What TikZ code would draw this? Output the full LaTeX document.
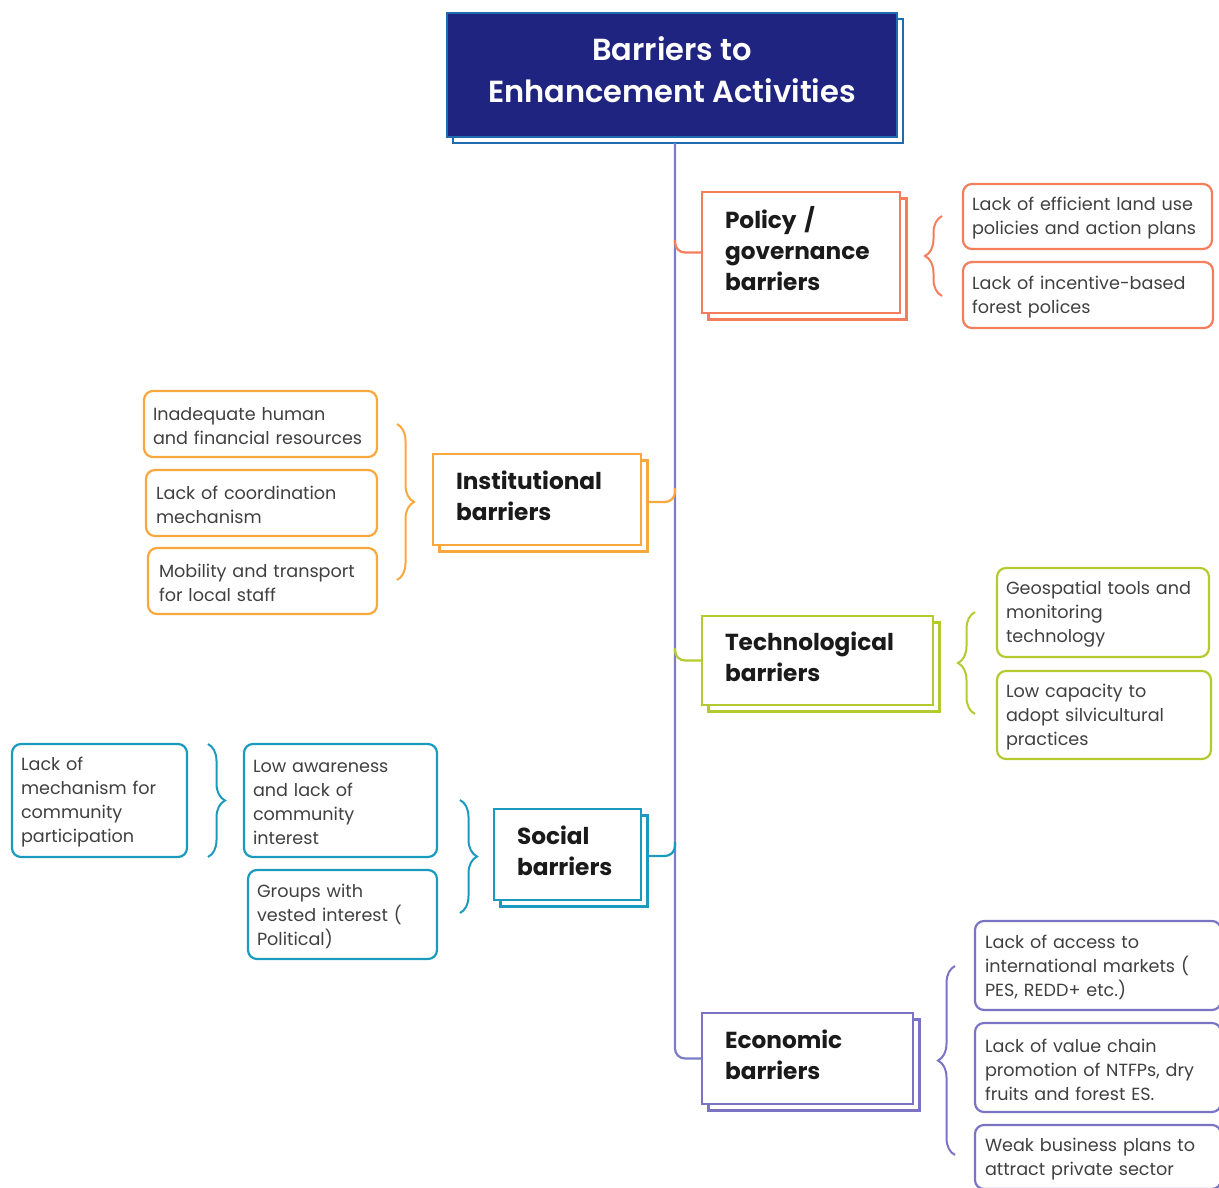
\documentclass[tikz,border=0pt]{standalone}
\usepackage{fontspec}
\setmainfont{Poppins}
\newfontfamily\titlefam{Poppins SemiBold}
\usetikzlibrary{shadows,decorations.pathreplacing}

\definecolor{navy}{HTML}{1F2480}
\definecolor{titleedge}{HTML}{1E6BB0}
\definecolor{trunkc}{HTML}{7B7EC6}
\definecolor{polc}{HTML}{F47D5C}
\definecolor{insc}{HTML}{F9A83D}
\definecolor{tecc}{HTML}{B5CA2F}
\definecolor{socc}{HTML}{1A9ABD}
\definecolor{ecoc}{HTML}{7B74C4}
\definecolor{txt}{HTML}{404040}
\definecolor{head}{HTML}{1A1A1A}

\newcommand\boxtextfont{\fontsize{17.6}{24}\selectfont\hyphenpenalty=10000\exhyphenpenalty=10000}
\newcommand\cattextfont{\fontsize{23.2}{31}\selectfont\bfseries\hyphenpenalty=10000}
\newcommand\titletextfont{\titlefam\fontsize{30.5}{42}\selectfont}

\tikzset{
  % boxes carry their text as a centred label, nudged to sit like the original
  item/.style={draw=#1, line width=2.2pt, rounded corners=9pt, fill=white, inner sep=0pt},
  itemtext/.style={align=left, inner sep=0pt, font=\boxtextfont, text=txt, yshift=-2pt},
  cat/.style={draw=#1, line width=2.2pt, fill=white, inner sep=0pt,
    copy shadow={shadow xshift=6.5pt, shadow yshift=-6.5pt}},
  cattext/.style={align=left, inner sep=0pt, font=\cattextfont, text=head, yshift=3.5pt},
  link/.style={draw=#1, line width=2.2pt, rounded corners=10pt},
  curly/.style={draw=#1, line width=2pt, decorate,
    decoration={brace, amplitude=17pt}},
}

\begin{document}
\begin{tikzpicture}[x=1pt, y=-1pt]
\useasboundingbox (0,0) rectangle (1219,1187);
\clip (0,0) rectangle (1219,1187);

% title with its offset back panel
\draw[titleedge, line width=2pt, fill=white] (453,19) rectangle (903,143);
\node[fill=navy, draw=titleedge, line width=2pt, inner sep=0pt,
  minimum width=450pt, minimum height=124pt,
  label={[align=center, text=white, font=\titletextfont, inner sep=0pt, yshift=5pt]center:{Barriers to\\Enhancement Activities}}]
  (title) at (672,75) {};

% points where branches leave the trunk
\coordinate (trunk) at (675,143);
\coordinate (tP) at (675,240);
\coordinate (tI) at (675,488);
\coordinate (tT) at (675,648);
\coordinate (tS) at (675,842);

% category boxes
\node[cat=polc, minimum width=198pt, minimum height=121pt,
  label={[cattext, text width=152pt]center:{Policy /\\governance\\barriers}}] (policy) at (801,252.5) {};
\node[cat=insc, minimum width=208pt, minimum height=91pt,
  label={[cattext, text width=162pt]center:{Institutional\\barriers}}] (inst) at (537,499.5) {};
\node[cat=tecc, minimum width=231pt, minimum height=89pt,
  label={[cattext, text width=185pt]center:{Technological\\barriers}}] (tech) at (817.5,660.5) {};
\node[cat=socc, minimum width=147pt, minimum height=91pt,
  label={[cattext, text width=101pt]center:{Social\\barriers}}] (social) at (567.5,854.5) {};
\node[cat=ecoc, minimum width=211pt, minimum height=91pt,
  label={[cattext, text width=165pt]center:{Economic\\barriers}}] (econ) at (807.5,1058.5) {};

% trunk and branches
\draw[link=trunkc] (trunk) |- (econ.west);
\draw[link=polc] (tP) |- (policy.west);
\draw[link=insc] ([xshift=6.5pt,yshift=-2.5pt]inst.east) -| (tI);
\draw[link=tecc] (tT) |- (tech.west);
\draw[link=socc] ([xshift=6.5pt,yshift=-1.5pt]social.east) -| (tS);

% policy items
\node[item=polc, minimum width=249pt, minimum height=65pt,
  label={[itemtext, text width=231pt]center:{Lack of efficient land use\\policies and action plans}}] (p1) at (1087.5,216.5) {};
\node[item=polc, minimum width=250pt, minimum height=66pt,
  label={[itemtext, text width=232pt]center:{Lack of incentive-based\\forest polices}}] (p2) at (1088,295) {};
\draw[curly=polc] (942,296) -- (942,216);

% institutional items
\node[item=insc, minimum width=233pt, minimum height=66pt,
  label={[itemtext, text width=215pt]center:{Inadequate human\\and financial resources}}] (i1) at (260.5,424) {};
\node[item=insc, minimum width=231pt, minimum height=66pt,
  label={[itemtext, text width=211pt]center:{Lack of coordination\\mechanism}}] (i2) at (261.5,503) {};
\node[item=insc, minimum width=229pt, minimum height=66pt,
  label={[itemtext, text width=207pt]center:{Mobility and transport\\for local staff}}] (i3) at (262.5,581) {};
\draw[curly=insc] (397,424) -- (397,580);

% technological items
\node[item=tecc, minimum width=212pt, minimum height=89pt,
  label={[itemtext, text width=194pt]center:{Geospatial tools and\\monitoring\\technology}}] (t1) at (1103,612.5) {};
\node[item=tecc, minimum width=214pt, minimum height=88pt,
  label={[itemtext, text width=196pt]center:{Low capacity to\\adopt silvicultural\\practices}}] (t2) at (1104,715) {};
\draw[curly=tecc] (975,714) -- (975,612);

% social items
\node[item=socc, minimum width=175pt, minimum height=113pt,
  label={[itemtext, text width=157pt]center:{Lack of\\mechanism for\\community\\participation}}] (s1) at (99.5,800.5) {};
\node[item=socc, minimum width=193pt, minimum height=113pt,
  label={[itemtext, text width=175pt]center:{Low awareness\\and lack of\\community\\interest}}] (s2) at (340.5,800.5) {};
\node[item=socc, minimum width=189pt, minimum height=89pt,
  label={[itemtext, text width=171pt]center:{Groups with\\vested interest (\\Political)}}] (s3) at (342.5,914.5) {};
\draw[curly=socc] (208,744) -- (208,857);
\draw[curly=socc] (460,800) -- (460,913);

% economic items
\node[item=ecoc, minimum width=246pt, minimum height=89pt,
  label={[itemtext, text width=226pt]center:{Lack of access to\\international markets (\\PES, REDD+ etc.)}}] (e1) at (1098,965.5) {};
\node[item=ecoc, minimum width=246pt, minimum height=89pt,
  label={[itemtext, text width=226pt]center:{Lack of value chain\\promotion of NTFPs, dry\\fruits and forest ES.}}] (e2) at (1098,1067.5) {};
\node[item=ecoc, minimum width=246pt, minimum height=64pt,
  label={[itemtext, text width=226pt]center:{Weak business plans to\\attract private sector}}] (e3) at (1098,1157) {};
\draw[curly=ecoc] (955,1155) -- (955,966);
\end{tikzpicture}
\end{document}
